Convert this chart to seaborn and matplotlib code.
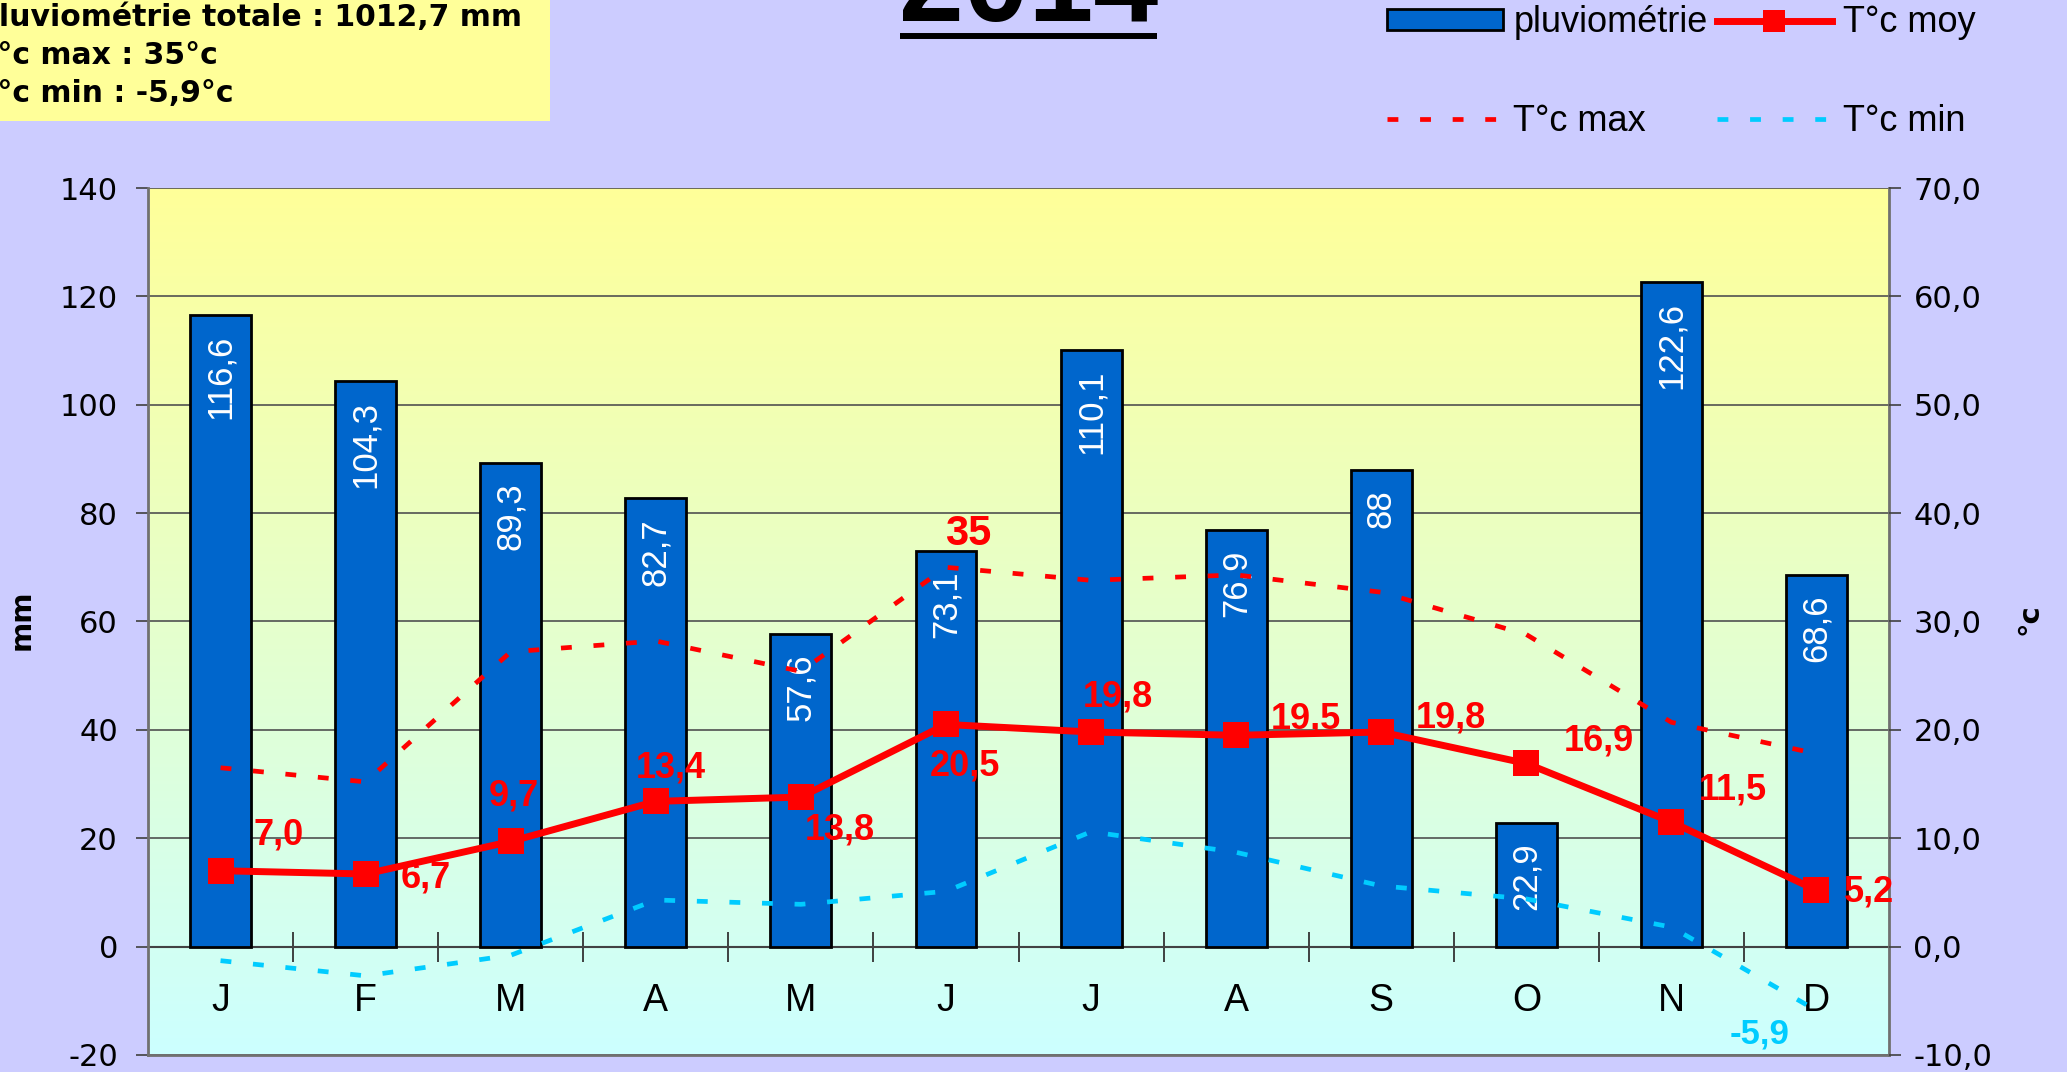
import matplotlib
matplotlib.use("Agg")
import numpy as np
import pandas as pd
import matplotlib.pyplot as plt
import seaborn as sns
from matplotlib.patches import Patch, Rectangle
from matplotlib.lines import Line2D
from matplotlib.colors import LinearSegmentedColormap

plt.rcParams["axes.unicode_minus"] = False

# ---- data ----
mois = ["janvier", "février", "mars", "avril", "mai", "juin",
        "juillet", "août", "septembre", "octobre", "novembre", "décembre"]
initiales = ["J", "F", "M", "A", "M", "J", "J", "A", "S", "O", "N", "D"]
pluie = [116.6, 104.3, 89.3, 82.7, 57.6, 73.1, 110.1, 76.9, 88.0, 22.9, 122.6, 68.6]
t_moy = [7.0, 6.7, 9.7, 13.4, 13.8, 20.5, 19.8, 19.5, 19.8, 16.9, 11.5, 5.2]
t_max = [16.5, 15.2, 27.2, 28.2, 25.4, 35.0, 33.8, 34.3, 32.7, 28.8, 20.7, 17.8]
t_min = [-1.3, -2.7, -0.8, 4.3, 3.9, 5.1, 10.6, 8.7, 5.6, 4.4, 1.8, -5.9]
ticks_mm = [-20, 0, 20, 40, 60, 80, 100, 120, 140]
ticks_temp = [-10, 0, 10, 20, 30, 40, 50, 60, 70]
labels_temp = ["-10,0", "0,0", "10,0", "20,0", "30,0", "40,0", "50,0", "60,0", "70,0"]

# label offsets (points) for the T moy values
offsets_moy = [(42, 26), (43, -3), (2, 33), (11, 24), (28, -24), (14, -30),
               (19, 25), (50, 12), (50, 10), (52, 16), (44, 23), (38, -1)]

BLEU = "#0066CC"
ROUGE = "#FF0000"
CYAN = "#00CCFF"
FOND = "#CCCCFF"
NARROW = "Liberation Sans"


def virgule(v, fmt="{:g}"):
    return fmt.format(v).replace(".", ",")


fig = plt.figure(figsize=(20.67, 10.72), dpi=100, facecolor=FOND)
ax = fig.add_axes([0.0716, 0.0159, 0.8423, 0.8087])

# plot area gradient yellow -> light cyan
cmap = LinearSegmentedColormap.from_list("fond", ["#FFFF99", "#CCFFFF"])
ax.imshow(np.linspace(0, 1, 256).reshape(-1, 1), cmap=cmap, aspect="auto",
          extent=[0, 1, 0, 1], transform=ax.transAxes, zorder=0)

# rainfall bars
df = pd.DataFrame({"mois": mois, "pluie": pluie})
sns.barplot(data=df, x="mois", y="pluie", order=mois, color=BLEU, saturation=1,
            edgecolor="black", linewidth=2, width=0.42, ax=ax, zorder=3)

for i, v in enumerate(pluie):
    ax.annotate(virgule(v), (i, v), xytext=(0, -14), textcoords="offset points",
                rotation=90, ha="center", va="top", color="white",
                fontsize=25, family=NARROW, zorder=5)

ax.set_xlim(-0.5, 11.5)
ax.set_ylim(-20, 140)
ax.set_yticks(ticks_mm)
ax.set_xlabel("")
ax.set_ylabel("")
ax.set_axisbelow(True)
ax.grid(axis="y", color="#505050", lw=1.2)
ax.grid(axis="x", visible=False)
ax.tick_params(axis="x", bottom=False, labelbottom=False)
ax.tick_params(axis="y", direction="out", length=8.6, width=1.2, color="#404040",
               labelsize=22, pad=13)
for s in ["left", "right", "bottom"]:
    ax.spines[s].set_color("#707070")
    ax.spines[s].set_linewidth(2)
ax.spines["top"].set_visible(False)

# category axis crossing at 0
sec = ax.secondary_xaxis(20 / 160)
sec.set_xticks(np.arange(0.5, 11, 1))
sec.set_xticks(range(12), labels=initiales, minor=True, fontsize=27, family=NARROW)
sec.tick_params(which="major", direction="inout", length=22, width=1.3,
                color="#333333", labelbottom=False)
sec.tick_params(which="minor", length=0, pad=26)
sec.spines["bottom"].set_color("black")
sec.spines["bottom"].set_linewidth(1.5)

# temperatures on the secondary axis
ax2 = ax.twinx()
x_pos = np.arange(len(mois))
sns.lineplot(x=x_pos, y=t_max, ax=ax2, color=ROUGE, lw=3.4,
             linestyle=(0, (2.3, 4.6)), zorder=4)
sns.lineplot(x=x_pos, y=t_min, ax=ax2, color=CYAN, lw=3.4,
             linestyle=(0, (2.3, 4.6)), zorder=4)
sns.lineplot(x=x_pos, y=t_moy, ax=ax2, color=ROUGE, lw=5, marker="s",
             markersize=19, markeredgewidth=0, zorder=6)

for i, v in enumerate(t_moy):
    ax2.annotate(virgule(v, "{:.1f}"), (i, v), xytext=offsets_moy[i],
                 textcoords="offset points", ha="center", va="center",
                 color=ROUGE, fontweight="bold", fontsize=26, family=NARROW, zorder=7)

i_max = int(np.argmax(t_max))
ax2.annotate(virgule(t_max[i_max]), (i_max, t_max[i_max]), xytext=(16, 24),
             textcoords="offset points", ha="center", va="center", color=ROUGE,
             fontweight="bold", fontsize=30, family=NARROW, zorder=7)
i_min = int(np.argmin(t_min))
ax2.annotate(virgule(t_min[i_min]), (i_min, t_min[i_min]), xytext=(-41, -17),
             textcoords="offset points", ha="center", va="center", color=CYAN,
             fontweight="bold", fontsize=25, family=NARROW, zorder=7)

ax2.set_ylim(-10, 70)
ax2.set_yticks(ticks_temp, labels=labels_temp)
ax2.set_xlim(-0.5, 11.5)
ax2.set_xlabel("")
ax2.set_ylabel("")
ax2.tick_params(axis="y", direction="out", length=8.6, width=1.2, color="#404040",
                labelsize=22, pad=9)
for s in ax2.spines.values():
    s.set_visible(False)

fig.text(0.0106, 0.4216, "mm", rotation=90, ha="center", va="center",
         fontsize=21, fontweight="bold")
fig.text(0.982, 0.4226, "°c", rotation=90, ha="center", va="center",
         fontsize=21, fontweight="bold")

# summary box, top left (cut by the image edge, as in the original)
fig.patches.append(Rectangle((0, 1 - 121 / 1072), 550 / 2067, 121 / 1072,
                             transform=fig.transFigure, facecolor="#FFFF99",
                             edgecolor="none", zorder=0))
lignes = [
    "Pluviométrie totale : " + virgule(round(sum(pluie), 1)) + " mm",
    "T°c max : " + virgule(max(t_max)) + "°c",
    "T°c min : " + virgule(min(t_min)) + "°c",
]
for txt, yb in zip(lignes, [26, 64, 102]):
    fig.text(-23 / 2067, 1 - yb / 1072, txt, ha="left", va="baseline",
             fontsize=21.5, fontweight="bold")

# title
fig.text(0.4978, 1 - 21 / 1072, "2014", ha="center", va="baseline",
         fontsize=84, fontweight="bold", family=NARROW)
fig.add_artist(Line2D([900 / 2067, 1157 / 2067], [1 - 36 / 1072] * 2,
                      transform=fig.transFigure, color="black", lw=4.3,
                      solid_capstyle="butt"))

# legend
handles = [
    Patch(facecolor=BLEU, edgecolor="black", lw=2),
    Line2D([], [], color=ROUGE, lw=3.4, linestyle=(0, (2.3, 4.6))),
    Line2D([], [], color=ROUGE, lw=5, marker="s", markersize=16, markeredgewidth=0),
    Line2D([], [], color=CYAN, lw=3.4, linestyle=(0, (2.3, 4.6))),
]
noms = ["pluviométrie", "T°c max", "T°c moy", "T°c min"]
fig.legend(handles, noms, loc="upper left", bbox_to_anchor=(1387 / 2067, 0.995),
           ncol=2, frameon=False, prop={"family": NARROW, "size": 26},
           handlelength=3.2, handleheight=0.55, handletextpad=0.3,
           columnspacing=0.25, labelspacing=1.75, borderpad=0, borderaxespad=0)

fig.savefig("out.png", dpi=100, facecolor=FOND)
